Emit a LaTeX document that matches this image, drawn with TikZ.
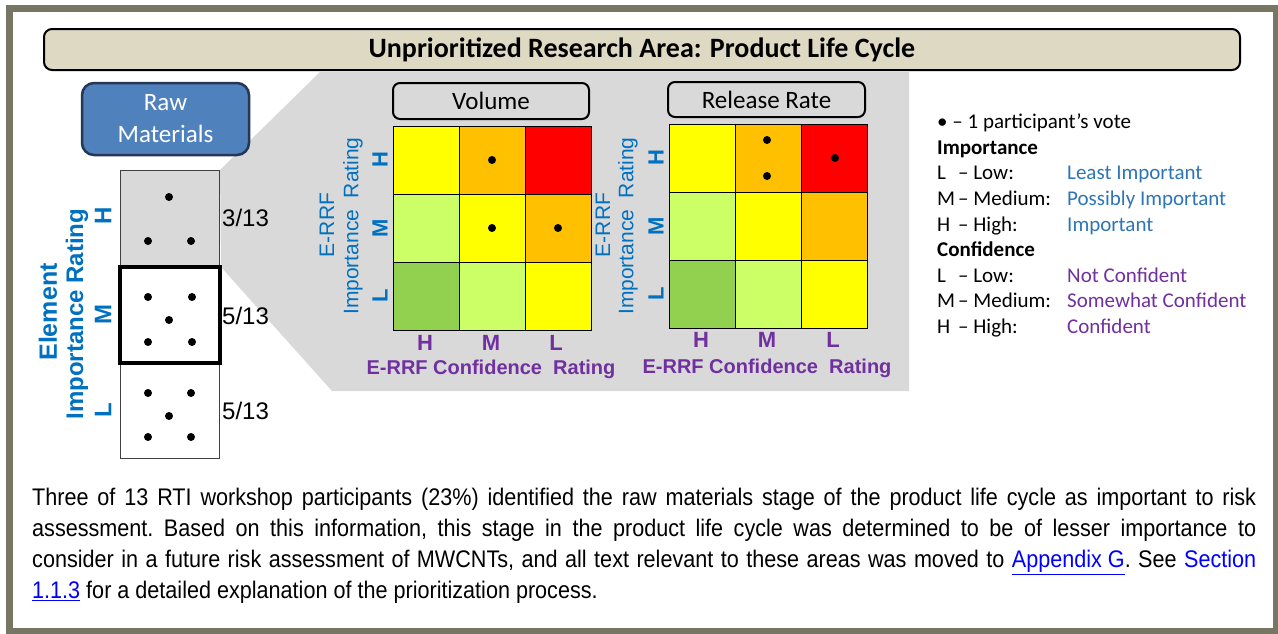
\documentclass[tikz,border=0pt]{standalone}
\usepackage{fontspec}
\setmainfont{Carlito}
\newfontfamily\arial{Liberation Sans}
\newfontfamily\narrow[FakeStretch=0.9]{Liberation Sans}
\definecolor{frame}{RGB}{118,118,98}
\definecolor{titlefill}{RGB}{221,217,195}
\definecolor{panel}{RGB}{217,217,217}
\definecolor{rawfill}{RGB}{79,129,189}
\definecolor{rawline}{RGB}{37,55,85}
\definecolor{axblue}{RGB}{0,112,192}
\definecolor{axpurple}{RGB}{112,48,160}
\definecolor{cY}{RGB}{255,255,0}
\definecolor{cO}{RGB}{255,192,0}
\definecolor{cR}{RGB}{255,0,0}
\definecolor{cLG}{RGB}{204,255,102}
\definecolor{cG}{RGB}{146,208,80}
\definecolor{linkblue}{RGB}{0,0,255}
\definecolor{legblue}{RGB}{46,117,182}
\newcommand{\fsz}[2]{\fontsize{#1}{#2}\selectfont}
\tikzset{
  cell/.style={draw=black, line width=1pt, minimum width=66pt, minimum height=68pt, inner sep=0pt, outer sep=0pt},
  vote/.style={circle, fill=black, inner sep=0pt, minimum size=8pt},
  ttlbox/.style={draw=black, line width=2pt, rounded corners=7pt, fill=panel, inner sep=0pt, font=\fsz{25}{30}},
  axlab/.style={text=axblue, font=\arial\fsz{21}{25}, inner sep=0pt, rotate=90},
  axletter/.style={text=axblue, font=\arial\bfseries\fsz{22}{26}, inner sep=0pt, rotate=90},
  conflet/.style={text=axpurple, font=\arial\bfseries\fsz{22}{26}, inner sep=0pt},
  conflab/.style={text=axpurple, font=\arial\bfseries\fsz{20}{24}, inner sep=0pt},
  leg/.style={font=\fsz{21}{25}, inner sep=0pt, anchor=base west},
  legb/.style={leg, font=\bfseries\fsz{21}{25}},
  frac/.style={anchor=west, inner sep=0pt, font=\arial\fsz{24}{28}},
  colcell/.style={draw=black!75, line width=1pt, minimum width=99pt, inner sep=0pt},
  elab/.style={text=axblue, font=\arial\bfseries\fsz{24}{28}, inner sep=0pt, rotate=90}
}
\begin{document}
\begin{tikzpicture}[x=1pt,y=-1pt]
\useasboundingbox (0,0) rectangle (1278,633);
\fill[white] (0,0) rectangle (1278,633);
\draw[frame, line width=7pt] (9.5,8.5) rectangle (1276,631);

% title bar
\node[draw=black, line width=2pt, rounded corners=8pt, fill=titlefill, minimum width=1196pt, minimum height=41pt, inner sep=0pt, font=\bfseries\fsz{28}{32}] (title) at (642,49.5) {Unprioritized Research Area: Product Life Cycle};

% zoom panel
\fill[panel] (220,170) -- (320,72) -- (909,72) -- (909,391) -- (332,391) -- (221,267) -- cycle;

% raw materials
\node[draw=rawline, line width=2.5pt, rounded corners=12pt, fill=rawfill, minimum width=167pt, minimum height=72pt, inner sep=0pt, text=white, align=center, font=\fsz{25}{32}] (raw) at (165.5,119) {Raw\\Materials};

% element column
\node[colcell, fill=panel, minimum height=97pt] (ctop) at (170,218.5) {};
\node[colcell, fill=white, minimum height=95pt] (cbot) at (170,410.5) {};
\node[draw=black, line width=4.5pt, fill=white, minimum width=100pt, minimum height=96pt, inner sep=0pt] (cmid) at (170,315) {};
\foreach \p [count=\i] in {(169,197),(148,241),(191,241),(148,297),(192,297),(169,320),(148,342),(192,342),(148,393),(191,393),(169,416),(148,437),(191,437)}
  \node[vote] (cd\i) at \p {};
\node[frac] (f1) at (222,218) {3/13};
\node[frac] (f2) at (222,316) {5/13};
\node[frac] (f3) at (222,411) {5/13};
\node[text=axblue, font=\arial\bfseries\fsz{25}{30}, inner sep=0pt, rotate=90] (el) at (48,312) {Element};
\node[elab] (elimp) at (77,314) {Importance Rating};
\node[elab] (elH) at (103,216) {H};
\node[elab] (elM) at (103,314) {M};
\node[elab] (elL) at (103,410) {L};

% matrices
\node[ttlbox, minimum width=196pt, minimum height=36pt] (vol) at (491,101) {Volume};
\node[ttlbox, minimum width=197pt, minimum height=35pt] (rr) at (766.5,99.5) {Release Rate};
\foreach \c/\r/\col in {0/0/cY,1/0/cO,2/0/cR,0/1/cLG,1/1/cY,2/1/cO,0/2/cG,1/2/cLG,2/2/cY}{
  \node[cell, fill=\col] (v\r\c) at ({426+66*\c},{160+68*\r}) {};
  \node[cell, fill=\col] (rr\r\c) at ({702+66*\c},{158+68*\r}) {};
}
\node[vote] (vd1) at (492,160) {};
\node[vote] (vd2) at (492,228) {};
\node[vote] (vd3) at (558,228) {};
\node[vote] (rd1) at (767,140) {};
\node[vote] (rd2) at (767,176) {};
\node[vote] (rd3) at (835,158) {};

% volume axes
\node[axlab] (ve) at (327,225) {E-RRF};
\node[axlab] (vi) at (353,226) {Importance\ \ Rating};
\node[axletter] (vH) at (380,160) {H};
\node[axletter] (vM) at (380,228) {M};
\node[axletter] (vL) at (380,296) {L};
\node[conflet] (vcH) at (425,343) {H};
\node[conflet] (vcM) at (491,343) {M};
\node[conflet] (vcL) at (556,343) {L};
\node[conflab] (vcl) at (491,369) {E-RRF Confidence\ \ Rating};

% release rate axes
\node[axlab] (re) at (603,225) {E-RRF};
\node[axlab] (ri) at (628,226) {Importance\ \ Rating};
\node[axletter] (rH) at (656,158) {H};
\node[axletter] (rM) at (656,226) {M};
\node[axletter] (rL) at (656,294) {L};
\node[conflet] (rcH) at (701,340) {H};
\node[conflet] (rcM) at (767,340) {M};
\node[conflet] (rcL) at (833,340) {L};
\node[conflab] (rcl) at (767,368) {E-RRF Confidence\ \ Rating};

% legend
\node[leg] (lg0) at (937,128.5) {\textbullet\ – 1 participant’s vote};
\node[legb] (lg1) at (937,154) {Importance};
\node[leg] (lk1) at (937,179.7) {L};
\node[leg] (lw1) at (958,179.7) {– Low:};
\node[leg, text=legblue] (ld1) at (1067,179.7) {Least Important};
\node[leg] (lk2) at (937,205.3) {M};
\node[leg] (lw2) at (958,205.3) {– Medium:};
\node[leg, text=legblue] (ld2) at (1067,205.3) {Possibly Important};
\node[leg] (lk3) at (937,231) {H};
\node[leg] (lw3) at (958,231) {– High:};
\node[leg, text=legblue] (ld3) at (1067,231) {Important};
\node[legb] (lg2) at (937,256.5) {Confidence};
\node[leg] (lk4) at (937,282) {L};
\node[leg] (lw4) at (958,282) {– Low:};
\node[leg, text=axpurple] (ld4) at (1067,282) {Not Confident};
\node[leg] (lk5) at (937,307.8) {M};
\node[leg] (lw5) at (958,307.8) {– Medium:};
\node[leg, text=axpurple] (ld5) at (1067,307.8) {Somewhat Confident};
\node[leg] (lk6) at (937,333.3) {H};
\node[leg] (lw6) at (958,333.3) {– High:};
\node[leg, text=axpurple] (ld6) at (1067,333.3) {Confident};

% paragraph
\node[anchor=north west, inner sep=0pt, align=left, font=\narrow\fsz{24}{31}\frenchspacing] (para) at (32,488) {%
\makebox[1224pt][s]{Three of 13 RTI workshop participants (23\%) identified the raw materials stage of the product life cycle as important to risk}\\
\makebox[1224pt][s]{assessment. Based on this information, this stage in the product life cycle was determined to be of lesser importance to}\\
\makebox[1224pt][s]{consider in a future risk assessment of MWCNTs, and all text relevant to these areas was moved to \textcolor{linkblue}{\underline{Appendix G}}. See \textcolor{linkblue}{Section}}\\
\textcolor{linkblue}{\underline{1.1.3}} for a detailed explanation of the prioritization process.};
\end{tikzpicture}
\end{document}
